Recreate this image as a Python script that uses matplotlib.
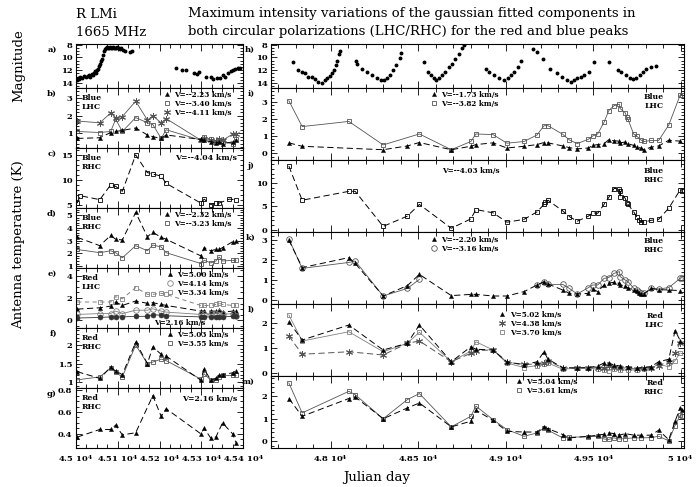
import numpy as np
import matplotlib
matplotlib.use('Agg')
import matplotlib.pyplot as plt
from matplotlib.lines import Line2D
from matplotlib.ticker import MultipleLocator, FuncFormatter

plt.rcParams['font.family'] = ['DejaVu Serif']
plt.rcParams['font.weight'] = 'bold'
plt.rcParams['mathtext.fontset'] = 'dejavuserif'
plt.rcParams['mathtext.default'] = 'bf'
plt.rcParams['lines.scale_dashes'] = False

# ---------------- data : left column (JD 45000-45400) ----------------
a_jd = [45002, 45005, 45007, 45010, 45014, 45019, 45024, 45029, 45031, 45033,
        45038, 45040, 45043, 45045, 45048, 45050, 45052, 45055, 45057, 45060,
        45062, 45064, 45067, 45069, 45071, 45074, 45076, 45079, 45081, 45083,
        45086, 45088, 45090, 45093, 45095, 45098, 45100, 45102, 45105, 45107,
        45112, 45117, 45129, 45133, 45240, 45255, 45264, 45283, 45290, 45295,
        45312, 45324, 45329, 45338, 45345, 45352, 45357, 45364, 45371, 45376,
        45381, 45388, 45393]
a_mag = [13.6, 13.2, 13.4, 13.0, 13.2, 12.9, 13.1, 12.9, 12.7, 13.0,
         12.6, 12.8, 12.5, 12.2, 12.4, 12.0, 11.8, 11.3, 11.0, 10.6,
         10.2, 9.6, 9.0, 8.7, 8.5, 8.4, 8.6, 8.5, 8.4, 8.6,
         8.5, 8.4, 8.5, 8.6, 8.5, 8.4, 8.6, 8.5, 8.7, 8.6,
         8.8, 9.0, 9.2, 9.0, 11.6, 12.0, 11.9, 12.4, 12.6, 12.3,
         13.0, 13.1, 13.4, 13.2, 13.3, 12.8, 13.0, 12.5, 12.2, 12.0,
         11.8, 11.7, 11.6]

b_jd = [45003, 45057, 45083, 45095, 45111, 45143, 45171, 45184, 45204, 45216,
        45299, 45307, 45323, 45335, 45343, 45351, 45375, 45383]
b_tri = [0.7, 0.74, 1.04, 1.1, 1.16, 1.3, 0.9, 0.8, 0.7, 0.9,
         0.64, 0.6, 0.5, 0.44, 0.5, 0.4, 0.5, 0.6]
b_sq = [1.1, 1.04, 1.1, 1.8, 1.1, 1.9, 1.6, 1.5, 0.7, 1.2,
        0.6, 0.8, 0.64, 0.5, 0.6, 0.5, 0.4, 0.64]
b_star = [1.7, 1.6, 2.16, 1.9, 1.96, 2.84, 1.76, 2.0, 1.6, 1.84,
          0.6, 0.64, 0.6, 0.56, 0.64, 0.6, 0.94, 0.94]

c_jd = [45003, 45010, 45057, 45083, 45095, 45111, 45143, 45171, 45184, 45204,
        45216, 45299, 45307, 45323, 45335, 45343, 45367, 45383]
c_sq = [5.3, 6.8, 6.0, 9.0, 8.7, 7.7, 15.1, 11.5, 11.2, 10.8,
        9.3, 5.3, 6.1, 5.0, 5.3, 5.3, 6.1, 6.0]

d_jd = b_jd
d_tri = [3.25, 2.6, 3.4, 3.1, 3.05, 5.2, 3.3, 3.65, 3.25, 3.1,
         1.8, 2.45, 2.2, 2.3, 2.3, 2.45, 2.9, 3.0]
d_sq = [2.3, 2.05, 2.2, 2.05, 1.65, 2.6, 2.2, 2.65, 2.5, 2.05,
        1.2, 1.45, 1.25, 1.4, 1.7, 1.4, 1.45, 1.45]

e_jd = b_jd
e_tri = [1.0, 1.12, 1.27, 1.64, 1.33, 1.73, 1.52, 1.58, 1.42, 1.33,
         0.82, 0.82, 0.82, 0.82, 0.9, 0.73, 0.82, 0.82]
e_circ = [0.52, 0.6, 0.6, 0.82, 0.6, 0.9, 0.9, 1.03, 0.82, 0.73,
          0.52, 0.6, 0.52, 0.6, 0.73, 0.52, 0.6, 0.36]
e_sq = [1.64, 1.64, 1.64, 2.12, 1.94, 2.94, 2.33, 2.33, 2.42, 2.33,
        1.33, 1.33, 1.33, 1.42, 1.52, 1.42, 1.33, 1.33]
e_fill = [0.2, 0.25, 0.3, 0.3, 0.3, 0.35, 0.35, 0.5, 0.45, 0.4,
          0.3, 0.3, 0.3, 0.3, 0.3, 0.3, 0.35, 0.35]

f_jd = b_jd
f_sq = [1.06, 1.14, 1.38, 1.26, 1.14, 2.0, 1.5, 1.54, 1.62, 1.58,
        1.08, 1.22, 1.05, 1.06, 1.14, 1.18, 1.18, 1.18]
f_tri = [1.28, 1.1, 1.4, 1.3, 1.2, 2.08, 1.5, 1.95, 1.75, 1.7,
         1.05, 1.35, 1.05, 1.1, 1.18, 1.2, 1.25, 1.3]

g_jd = [45003, 45057, 45083, 45095, 45111, 45143, 45184, 45204, 45216, 45299,
        45307, 45323, 45335, 45351, 45375, 45383]
g_tri = [0.37, 0.44, 0.44, 0.48, 0.39, 0.41, 0.75, 0.56, 0.63, 0.40,
         0.45, 0.36, 0.37, 0.50, 0.40, 0.32]

# ---------------- data : right column (JD 47660-50020) ----------------
h_jd = [47783, 47817, 47839, 47856, 47873, 47895, 47912, 47928, 47951, 47968,
        47979, 47996, 48007, 48018, 48029, 48035, 48046, 48057,
        48147, 48150, 48180, 48208, 48236, 48264, 48286, 48303, 48320, 48342,
        48359, 48376, 48398, 48404,
        48532, 48555, 48572, 48594, 48605, 48622, 48639, 48655, 48678, 48695,
        48711, 48734, 48750, 48762,
        48890, 48907, 48935, 48963, 48991, 49013, 49030, 49046, 49069, 49086,
        49159, 49181, 49215, 49254, 49293, 49321, 49349, 49377, 49394, 49410,
        49433, 49450, 49477, 49505,
        49589, 49645, 49662, 49690, 49712, 49729, 49746, 49768, 49785, 49802,
        49830, 49858]
h_mag = [10.8, 12.0, 12.3, 12.5, 13.1, 13.1, 13.4, 13.8, 14.0, 13.5,
         13.3, 12.9, 12.5, 12.0, 11.2, 10.5, 9.5, 9.0,
         10.5, 11.0, 11.8, 12.3, 12.8, 13.3, 13.5, 13.6, 13.3, 12.8,
         12.0, 11.2, 10.1, 9.3,
         10.7, 12.3, 12.8, 13.3, 13.5, 13.3, 12.8, 12.3, 11.5, 11.0,
         10.3, 9.5, 8.6, 8.0,
         11.8, 12.3, 12.8, 13.3, 13.5, 13.3, 12.8, 12.3, 11.5, 10.5,
         8.7, 9.2, 10.3, 11.8, 12.5, 13.0, 13.5, 13.8, 13.5, 13.3,
         13.0, 12.8, 12.3, 10.8,
         10.7, 12.0, 12.3, 12.8, 13.3, 13.4, 13.3, 12.8, 12.3, 11.8,
         11.5, 11.3]

i_sq_jd = [47762, 47838, 48105, 48301, 48508, 48690, 48802, 48831, 48929, 49008,
           49106, 49180, 49220, 49243, 49327, 49365, 49410, 49474, 49498, 49527,
           49563, 49590, 49620, 49651, 49655, 49684, 49694, 49700, 49733, 49749,
           49773, 49792, 49832, 49875, 49933, 49998, 50008]
i_sq = [3.06, 1.55, 1.85, 0.48, 1.12, 0.2, 0.68, 1.12, 1.08, 0.58,
        0.68, 1.06, 1.6, 1.6, 1.1, 0.77, 0.56, 0.81, 1.0, 1.12,
        1.8, 2.48, 2.77, 2.86, 2.6, 2.36, 2.09, 1.97, 1.1, 1.0,
        0.77, 0.68, 0.74, 0.74, 1.64, 3.39, 3.39]
i_tri_jd = [47762, 47838, 48301, 48439, 48508, 48690, 48802, 48831, 48929, 49008,
            49106, 49180, 49220, 49243, 49327, 49365, 49410, 49474, 49498, 49527,
            49563, 49590, 49620, 49651, 49655, 49684, 49700, 49733, 49749, 49773,
            49792, 49832, 49875, 49933, 49998]
i_tri = [0.6, 0.4, 0.2, 0.42, 0.62, 0.2, 0.4, 0.5, 0.6, 0.3,
         0.4, 0.5, 0.62, 0.6, 0.42, 0.32, 0.25, 0.3, 0.45, 0.5,
         0.55, 0.78, 0.72, 0.7, 0.6, 0.65, 0.55, 0.45, 0.35, 0.3,
         0.2, 0.35, 0.42, 0.75, 0.7]

j_jd = [47762, 47838, 48105, 48141, 48301, 48439, 48508, 48690, 48802, 48831,
        48929, 49008, 49106, 49180, 49220, 49224, 49243, 49327, 49365, 49410,
        49474, 49498, 49527, 49563, 49590, 49620, 49651, 49655, 49657, 49684,
        49694, 49700, 49733, 49749, 49763, 49773, 49792, 49832, 49875, 49933,
        49998, 50008]
j_sq = [13.6, 6.3, 8.2, 8.2, 0.7, 2.9, 5.4, 0.3, 2.3, 4.3,
        3.6, 1.6, 2.2, 3.8, 5.4, 5.9, 6.3, 4.0, 2.8, 1.8,
        2.9, 3.6, 3.5, 5.4, 6.9, 8.8, 8.8, 6.9, 8.2, 6.7,
        5.7, 5.4, 3.8, 2.8, 2.1, 1.7, 1.6, 2.0, 2.2, 4.6,
        8.5, 8.2]

k_circ_jd = [47762, 47838, 48105, 48141, 48301, 48439, 48508, 48600, 49180, 49220,
             49243, 49327, 49365, 49410, 49474, 49498, 49527, 49563, 49590, 49620,
             49651, 49655, 49684, 49700, 49733, 49749, 49763, 49773, 49792, 49832,
             49875, 49933, 49998, 50008]
k_circ = [3.05, 1.58, 1.88, 1.95, 0.2, 0.58, 1.03, np.nan, 0.75, 0.88,
          0.78, 0.78, 0.58, 0.3, 0.62, 0.75, 0.75, 1.08, 1.12, 1.33,
          1.42, 1.17, 1.0, 0.92, 0.58, 0.5, 0.42, 0.33, 0.33, 0.58,
          0.55, 0.62, 1.08, 1.12]
k_tri_jd = [47762, 47838, 48105, 48141, 48301, 48439, 48508, 48690, 48802, 48831,
            48929, 49008, 49106, 49180, 49220, 49243, 49327, 49365, 49410, 49474,
            49498, 49527, 49563, 49590, 49620, 49651, 49655, 49684, 49700, 49733,
            49749, 49763, 49773, 49792, 49832, 49875, 49933, 49998]
k_tri = [3.0, 1.62, 2.12, 1.83, 0.2, 0.72, 1.28, 0.22, 0.28, 0.28,
         0.2, 0.2, 0.42, 0.75, 0.92, 0.8, 0.5, 0.33, 0.3, 0.33,
         0.55, 0.42, 0.75, 0.85, 0.88, 0.83, 0.75, 0.7, 0.6, 0.5,
         0.45, 0.35, 0.3, 0.3, 0.58, 0.52, 0.5, 0.47]

l_jd = [47762, 47838, 48105, 48301, 48439, 48508, 48690, 48802, 48831, 48929,
        49008, 49106, 49180, 49220, 49243, 49327, 49410, 49474, 49527, 49563,
        49590, 49620, 49655, 49700, 49749, 49792, 49832, 49875, 49933, 49969,
        49998]
l_sq = [2.32, 1.28, 1.65, 0.85, 1.19, 1.63, 0.45, 0.88, 1.25, 0.92,
        0.4, 0.22, 0.3, 0.38, 0.4, 0.15, 0.2, 0.2, 0.15, 0.12,
        0.1, 0.15, 0.12, 0.12, 0.12, 0.15, 0.2, 0.35, 0.25, 0.5,
        0.8]
l_tri = [2.05, 1.32, 1.92, 0.92, 1.19, 1.92, 0.45, 1.05, 0.95, 0.92,
         0.45, 0.32, 0.45, 0.85, 0.55, 0.22, 0.2, 0.22, 0.28, 0.4,
         0.4, 0.32, 0.28, 0.25, 0.2, 0.22, 0.25, 0.45, 0.55, 1.7,
         1.3]
l_star = [1.48, 0.75, 0.85, 0.72, 1.19, 1.28, 0.45, 0.79, 0.9, 0.92,
          0.43, 0.35, 0.35, 0.4, 0.5, 0.2, 0.2, 0.2, 0.22, 0.2,
          0.3, 0.25, 0.2, 0.2, 0.15, 0.2, 0.2, 0.3, 0.45, 0.8,
          1.2]

m_jd = [47762, 47838, 48105, 48141, 48301, 48439, 48508, 48690, 48802, 48831,
        48929, 49008, 49106, 49180, 49220, 49243, 49327, 49365, 49474, 49527,
        49563, 49590, 49620, 49651, 49684, 49733, 49773, 49832, 49875, 49933,
        49969, 49998, 50008]
m_sq = [2.59, 1.26, 2.22, 2.07, 1.0, 1.85, 2.12, 0.64, 1.11, 1.56,
        0.96, 0.52, 0.22, 0.37, 0.59, 0.49, 0.15, 0.18, 0.2, 0.22,
        0.1, 0.08, 0.15, 0.1, 0.12, 0.15, 0.15, 0.16, 0.22, 0.02,
        0.7, 1.15, 1.12]
m_tri = [1.9, 1.11, 1.9, 1.97, 1.0, 1.48, 1.7, 0.64, 0.89, 1.38,
         0.93, 0.44, 0.41, 0.41, 0.64, 0.56, 0.3, 0.15, 0.22, 0.27,
         0.31, 0.37, 0.34, 0.27, 0.34, 0.27, 0.27, 0.27, 0.49, 0.07,
         0.89, 1.48, 1.41]

# ---------------- figure ----------------
W, H = 697, 487
fig = plt.figure(figsize=(W / 100, H / 100), dpi=100)

LX = (76, 243)
RX = (271, 684)
L_ROWS = [(44, 88), (88, 148), (148, 208), (208, 268), (268, 328), (328, 388), (388, 448)]
R_ROWS = [(44, 88), (88, 160), (160, 232), (232, 304), (304, 376), (376, 448)]
L_XLIM = (45000, 45400)
R_XLIM = (47660, 50020)


def add_ax(xr, yr):
    x0, x1 = xr
    y0, y1 = yr
    ax = fig.add_axes([x0 / W, 1 - y1 / H, (x1 - x0) / W, (y1 - y0) / H])
    ax.hpx = y1 - y0
    return ax


gfmt = FuncFormatter(lambda v, p: f'{v:g}')
xfmt = FuncFormatter(lambda v, p: f'{v / 1e4:g} 10$^{{4}}$')


def style(ax, xlim, xmaj, xmin, ylim, ymaj, ymin, bottom_labels=False):
    ax.set_xlim(*xlim)
    ax.set_ylim(*ylim)
    ax.xaxis.set_major_locator(MultipleLocator(xmaj))
    ax.xaxis.set_minor_locator(MultipleLocator(xmin))
    ax.yaxis.set_major_locator(MultipleLocator(ymaj))
    ax.yaxis.set_minor_locator(MultipleLocator(ymin))
    ax.yaxis.set_major_formatter(gfmt)
    ax.tick_params(which='both', direction='in', top=True, right=True,
                   width=0.6, labelsize=6, pad=2.5)
    ax.tick_params(axis='x', which='major', length=5)
    ax.tick_params(axis='x', which='minor', length=3)
    ax.tick_params(axis='y', which='major', length=4)
    ax.tick_params(axis='y', which='minor', length=2)
    if bottom_labels:
        ax.xaxis.set_major_formatter(xfmt)
        ax.tick_params(axis='x', pad=4)
    else:
        ax.tick_params(labelbottom=False)
    for s in ax.spines.values():
        s.set_linewidth(0.8)


TRI = dict(marker='^', ms=3.0, mfc='k', mec='k', mew=0.3)
SQ = dict(marker='s', ms=3.4, mfc='none', mew=0.6)
CIRC = dict(marker='o', ms=4.0, mfc='none', mew=0.6)
FCIRC = dict(marker='o', ms=3.6, mfc='#333333', mec='#333333', mew=0.4)
STAR = dict(marker=(6, 2, 0), ms=5.0, mew=0.7)
DASH = dict(ls=(0, (4.5, 2.5)), lw=0.7)
SOLID = dict(ls='-', lw=0.6)


def series(ax, x, y, mk, ln, color):
    ax.plot(x, y, color=color, mec=mk.get('mec', color),
            **{k: v for k, v in mk.items() if k != 'mec'}, **ln)


def handle(mk, color='k'):
    d = {k: v for k, v in mk.items() if k != 'mec'}
    return Line2D([], [], ls='none', color=color, mec=mk.get('mec', color), **d)


def leg(ax, hs, labels, x, dy=3):
    ax.legend(hs, labels, loc='upper left', bbox_to_anchor=(x, 1 - dy / ax.hpx),
              frameon=False, fontsize=5.2, handlelength=0.6, handletextpad=0.7,
              labelspacing=0.12, borderpad=0, borderaxespad=0)


def tl(ax, s, dy=6):
    ax.text(0.035, 1 - dy / ax.hpx, s, transform=ax.transAxes, ha='left', va='top',
            fontsize=5.6, linespacing=1.15)


def tr(ax, s, x=0.965, dy=6):
    ax.text(x, 1 - dy / ax.hpx, s, transform=ax.transAxes, ha='right', va='top',
            fontsize=5.6, linespacing=1.15)


GREY = '#555555'
LGREY = '#808080'

# ---- left column ----
axa = add_ax(LX, L_ROWS[0])
axa.plot(a_jd, a_mag, ls='none', marker='o', ms=1.8, color='k')
style(axa, L_XLIM, 100, 25, (14.8, 7.9), 2, 0.5)

axb = add_ax(LX, L_ROWS[1])
series(axb, b_jd, b_star, STAR, SOLID, GREY)
series(axb, b_jd, b_sq, SQ, SOLID, GREY)
series(axb, b_jd, b_tri, TRI, DASH, 'k')
style(axb, L_XLIM, 100, 25, (0.15, 3.6), 1, 0.2)
tl(axb, 'Blue\nLHC')
leg(axb, [handle(TRI), handle(SQ, GREY), handle(STAR, GREY)],
    ['V=--2.23 km/s', 'V=--3.40 km/s', 'V=--4.11 km/s'], 0.53)

axc = add_ax(LX, L_ROWS[2])
series(axc, c_jd, c_sq, SQ, DASH, 'k')
style(axc, L_XLIM, 100, 25, (4.3, 16.5), 5, 1)
tl(axc, 'Blue\nRHC')
tr(axc, 'V=--4.04 km/s')

axd = add_ax(LX, L_ROWS[3])
series(axd, d_jd, d_sq, SQ, SOLID, GREY)
series(axd, d_jd, d_tri, TRI, DASH, 'k')
style(axd, L_XLIM, 100, 25, (0.85, 5.55), 1, 0.2)
tl(axd, 'Blue\nRHC')
leg(axd, [handle(TRI), handle(SQ, GREY)], ['V=--2.32 km/s', 'V=--3.23 km/s'], 0.53)

axe = add_ax(LX, L_ROWS[4])
series(axe, e_jd, e_sq, SQ, dict(ls=(0, (3, 2.5)), lw=0.7), LGREY)
series(axe, e_jd, e_tri, TRI, DASH, 'k')
series(axe, e_jd, e_circ, CIRC, SOLID, LGREY)
series(axe, e_jd, e_fill, FCIRC, SOLID, '#333333')
style(axe, L_XLIM, 100, 25, (-0.7, 4.7), 2, 0.5)
tl(axe, 'Red\nLHC')
leg(axe, [handle(TRI), handle(CIRC, LGREY), handle(SQ, LGREY)],
    ['V=5.00 km/s', 'V=4.14 km/s', 'V=3.34 km/s'], 0.55)
axe.text(0.47, 0.02, 'V=2.16 km/s', transform=axe.transAxes, ha='left', va='bottom',
         fontsize=5.2)

axf = add_ax(LX, L_ROWS[5])
series(axf, f_jd, f_sq, SQ, SOLID, GREY)
series(axf, f_jd, f_tri, TRI, DASH, 'k')
style(axf, L_XLIM, 100, 25, (0.84, 2.46), 0.5, 0.1)
tl(axf, 'Red\nRHC')
leg(axf, [handle(TRI), handle(SQ, GREY)], ['V=5.03 km/s', 'V=3.55 km/s'], 0.55)

axg = add_ax(LX, L_ROWS[6])
series(axg, g_jd, g_tri, TRI, DASH, 'k')
style(axg, L_XLIM, 100, 25, (0.27, 0.82), 0.2, 0.05, bottom_labels=True)
tl(axg, 'Red\nRHC')
tr(axg, 'V=2.16 km/s', dy=7)

# ---- right column ----
axh = add_ax(RX, R_ROWS[0])
axh.plot(h_jd, h_mag, ls='none', marker='o', ms=1.8, color='k')
style(axh, R_XLIM, 500, 100, (14.8, 7.9), 2, 0.5)

axi = add_ax(RX, R_ROWS[1])
series(axi, i_sq_jd, i_sq, SQ, SOLID, GREY)
series(axi, i_tri_jd, i_tri, TRI, DASH, 'k')
style(axi, R_XLIM, 500, 100, (-0.4, 3.8), 1, 0.2)
tr(axi, 'Blue\nLHC', x=0.95, dy=5)
leg(axi, [handle(TRI), handle(SQ, GREY)], ['V=--1.73 km/s', 'V=--3.82 km/s'], 0.39, dy=3)

axj = add_ax(RX, R_ROWS[2])
series(axj, j_jd, j_sq, SQ, DASH, 'k')
style(axj, R_XLIM, 500, 100, (-0.5, 14.9), 5, 1)
tr(axj, 'Blue\nRHC', x=0.95, dy=7)
axj.text(0.415, 1 - 7 / axj.hpx, 'V=--4.03 km/s', transform=axj.transAxes,
         ha='left', va='top', fontsize=5.2)

axk = add_ax(RX, R_ROWS[3])
series(axk, k_circ_jd, k_circ, CIRC, SOLID, GREY)
series(axk, k_tri_jd, k_tri, TRI, DASH, 'k')
style(axk, R_XLIM, 500, 100, (-0.2, 3.4), 1, 0.2)
tr(axk, 'Blue\nRHC', x=0.95, dy=5)
leg(axk, [handle(TRI), handle(CIRC, GREY)], ['V=--2.20 km/s', 'V=--3.16 km/s'], 0.39, dy=4)

axl = add_ax(RX, R_ROWS[4])
series(axl, l_jd, l_sq, SQ, SOLID, LGREY)
series(axl, l_jd, l_star, STAR, DASH, GREY)
series(axl, l_jd, l_tri, TRI, DASH, 'k')
style(axl, R_XLIM, 500, 100, (-0.12, 2.76), 1, 0.2)
tr(axl, 'Red\nLHC', x=0.95, dy=8)
leg(axl, [handle(TRI), handle(STAR, GREY), handle(SQ, LGREY)],
    ['V=5.02 km/s', 'V=4.38 km/s', 'V=3.70 km/s'], 0.555, dy=7)

axm = add_ax(RX, R_ROWS[5])
series(axm, m_jd, m_sq, SQ, SOLID, GREY)
series(axm, m_jd, m_tri, TRI, DASH, 'k')
style(axm, R_XLIM, 500, 100, (-0.3, 2.9), 1, 0.2, bottom_labels=True)
tr(axm, 'Red\nRHC', x=0.95, dy=3)
leg(axm, [handle(TRI), handle(SQ, GREY)], ['V=5.04 km/s', 'V=3.61 km/s'], 0.595, dy=2)


# ---- panel letters ----
def ftext(x, y, s, **kw):
    fig.text(x / W, 1 - y / H, s, **kw)


for lab, (y0, y1) in zip('abcdefg', L_ROWS):
    ftext(57, y0 + 6, lab + ')', ha='right', va='center', fontsize=6)
for lab, (y0, y1) in zip('hijklm', R_ROWS):
    ftext(255, y0 + 6, lab + ')', ha='right', va='center', fontsize=6)

# ---- titles and axis titles ----
ftext(76, 14, 'R LMi', ha='left', va='center', fontsize=9.5, fontweight='normal')
ftext(76, 32, '1665 MHz', ha='left', va='center', fontsize=9.5, fontweight='normal')
ftext(188, 14, 'Maximum intensity variations of the gaussian fitted components in',
      ha='left', va='center', fontsize=9.5, fontweight='normal')
ftext(188, 32, 'both circular polarizations (LHC/RHC) for the red and blue peaks',
      ha='left', va='center', fontsize=9.5, fontweight='normal')
ftext(19, 66, 'Magnitude', ha='center', va='center', rotation=90, fontsize=9.5,
      fontweight='normal')
ftext(19, 245, 'Antenna temperature (K)', ha='center', va='center', rotation=90,
      fontsize=9.5, fontweight='normal')
ftext(377, 477, 'Julian day', ha='center', va='center', fontsize=9.5, fontweight='normal')

fig.savefig('out.png', dpi=100)
